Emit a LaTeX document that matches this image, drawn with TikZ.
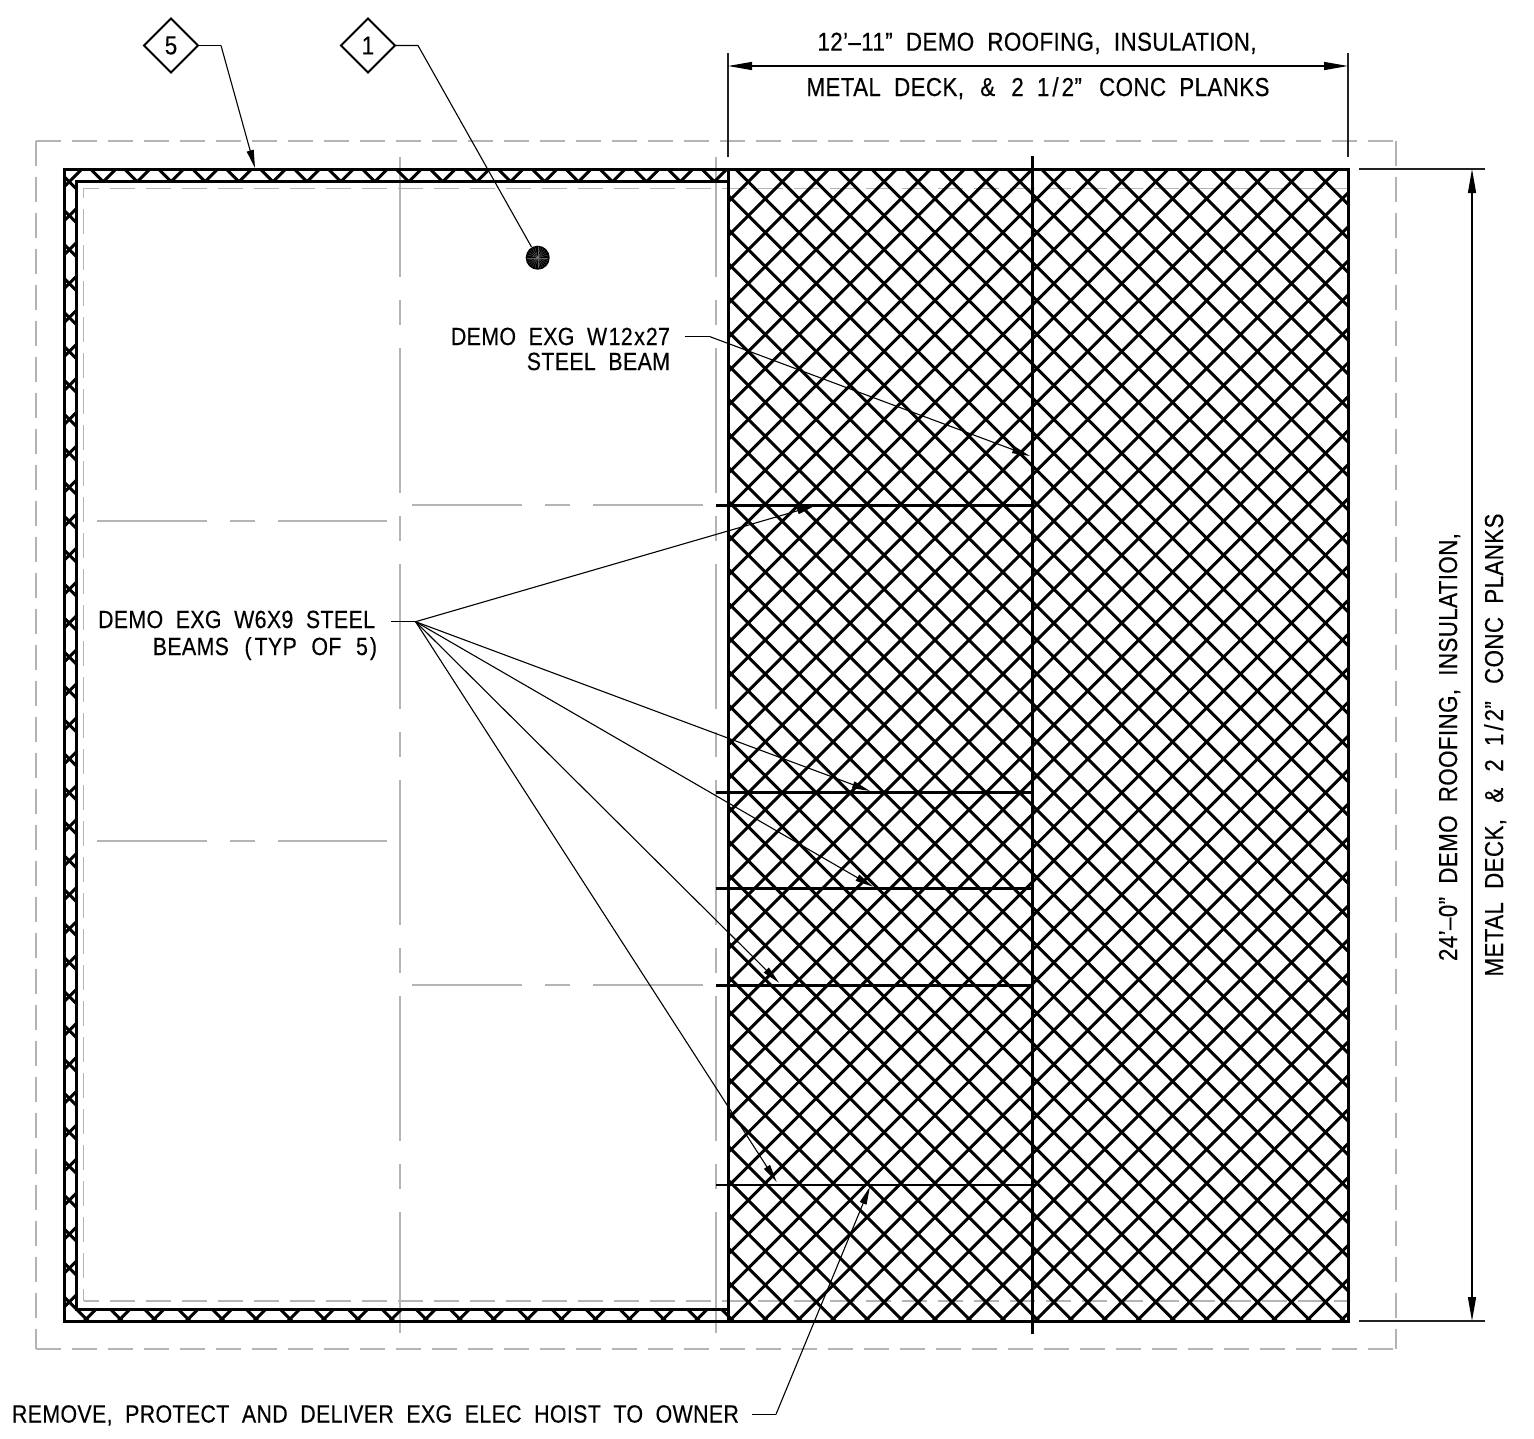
\documentclass[tikz,border=0pt]{standalone}
\usepackage{fontspec}
\setmainfont{Liberation Sans}[FakeStretch=0.86,FakeBold=0.35,LetterSpace=1.5,WordSpace=2.0,Ligatures=NoCommon]
\usetikzlibrary{arrows.meta,shapes.geometric}
\definecolor{gridgray}{HTML}{B4B4B4}
\definecolor{dimink}{HTML}{222222}
\newcommand{\planks}{METAL DECK, \kern3pt\&\kern3pt{} 2 1\kern3pt/\kern3pt2” \kern4pt CONC PLANKS}
\tikzset{
  wallink/.style={line width=3pt,black,line join=miter},
  hatchink/.style={line width=3pt,black},
  beamink/.style={line width=3pt,black},
  lightbeam/.style={line width=2.4pt,black},
  outerdash/.style={gridgray,line width=1.6pt,dash pattern=on 25pt off 11pt},
  centerv/.style={gridgray,line width=1.6pt,dash pattern=on 145pt off 23pt on 25pt off 23pt,dash phase=25pt},
  centerh/.style={gridgray,line width=1.6pt,dash pattern=on 110pt off 23pt on 25pt off 23pt},
  extline/.style={dimink,line width=1.3pt},
  dimarrow/.style={black,line width=1.3pt,{Triangle[length=24pt,width=8pt]}-{Triangle[length=24pt,width=8pt]}},
  leader/.style={black,line width=1.1pt,-{Triangle[length=18pt,width=7pt]}},
  stubline/.style={black,line width=1.1pt},
  tag/.style={draw=black,line width=1.8pt,diamond,aspect=1,minimum width=54pt,minimum height=54pt,inner sep=0pt,outer sep=0pt,font=\fontsize{26}{26}\selectfont},
  note/.style={inner sep=0pt,outer sep=0pt,font=\fontsize{24.8}{24.8}\selectfont},
  dimnote/.style={inner sep=0pt,outer sep=0pt,font=\fontsize{26}{26}\selectfont},
  anchorpt/.style={inner sep=0pt,minimum size=0pt}
}
\begin{document}
\begin{tikzpicture}[x=1pt,y=-1pt]
\useasboundingbox (0,0) rectangle (1534,1438);
\fill[white] (0,0) rectangle (1534,1438);
% grey outer dashed
\draw[outerdash] (36,140.7) -- (1396,140.7);
\draw[outerdash] (36,140.7) -- (36,1349);
\draw[outerdash] (1396,140.7) -- (1396,1349);
\draw[outerdash] (36,1349) -- (1396,1349);
% grey inner dashed
\draw[outerdash,dash phase=10pt] (83.5,188.3) -- (1347,188.3);
\draw[outerdash,dash phase=15pt] (83.5,188.3) -- (83.5,1301);
\draw[outerdash,dash phase=10pt] (83.5,1301) -- (1347,1301);
% grey centre lines
\draw[centerv] (400,157) -- (400,1333);
\draw[centerv] (716,157) -- (716,1333);
\draw[centerh] (97,521) -- (387,521);
\draw[centerh] (97,841) -- (387,841);
\draw[centerh] (412,505) -- (703,505);
\draw[centerh] (412,985) -- (703,985);
% hatching
\begin{scope}
\clip (64,169) rectangle (728,181) (64,169) rectangle (76,1321) (64,1309) rectangle (728,1321) (728,169) rectangle (1348,1321);
\foreach \k in {-21,...,52}{
  \pgfmathsetmacro{\cc}{930+33.95*\k}
  \draw[hatchink] (\cc,0) -- (0,\cc);
}
\foreach \k in {-54,...,19}{
  \pgfmathsetmacro{\dd}{566.6+33.95*\k}
  \pgfmathsetmacro{\ya}{-\dd}
  \pgfmathsetmacro{\yb}{1400-\dd}
  \draw[hatchink] (0,\ya) -- (1400,\yb);
}
\end{scope}
% walls
\draw[wallink] (64,169) rectangle (1348,1321);
\draw[wallink] (728,181) -- (76,181) -- (76,1309) -- (728,1309);
\draw[wallink] (728,169) -- (728,1321);
% beams
\draw[beamink] (1032,156) -- (1032,1334);
\draw[beamink] (716,505) -- (1032,505);
\draw[beamink] (716,792.5) -- (1032,792.5);
\draw[beamink] (716,888.5) -- (1032,888.5);
\draw[beamink] (716,985) -- (1032,985);
\draw[lightbeam] (716,1185) -- (1032,1185);
% dimensions
\draw[extline] (728,53) -- (728,157);
\draw[extline] (1348,53) -- (1348,157);
\draw[extline] (1359,169) -- (1485,169);
\draw[extline] (1359,1321) -- (1485,1321);
\coordinate (dimL) at (728,66);
\coordinate (dimR) at (1348,66);
\coordinate (dimT) at (1472,169);
\coordinate (dimB) at (1472,1321);
\draw[dimarrow] (dimL) -- (dimR);
\draw[dimarrow] (dimT) -- (dimB);
% point
\fill[black] (537.7,257.7) circle (12);
\foreach \a in {0,15,...,345}{
  \draw[black!62,line width=0.35pt] (537.7,257.7) -- ++(\a:10.5);
}
\fill[black!55] (537.7,257.7) circle (1.6);
% tags
\node[tag] (tagfive) at (171,45.5) {5};
\node[tag] (tagone) at (368,45.5) {1};
\coordinate (kneefive) at (221,45.5);
\coordinate (kneeone) at (418,45.5);
\coordinate (tipfive) at (255,168);
\coordinate (tipone) at (531.5,247);
\draw[stubline] (tagfive.east) -- (kneefive);
\draw[leader] (kneefive) -- (tipfive);
\draw[stubline] (tagone.east) -- (kneeone) -- (tipone);
% notes
\node[note,anchor=base east] (noteA) at (670,345) {DEMO EXG W\kern1.5pt 12\kern1.5pt x\kern1pt 27};
\node[note,anchor=base east] (noteB) at (670,370) {STEEL BEAM};
\node[note,anchor=base east] (noteC) at (375,628) {DEMO EXG W6X9 STEEL};
\node[note,anchor=base east] (noteD) at (377,655) {BEAMS \kern3pt(\kern3pt TYP \kern2pt OF \kern2pt 5\kern2pt)};
\node[note,anchor=base west] (noteE) at (12,1422.5) {REMOVE, PROTECT AND DELIVER EXG ELEC HOIST TO OWNER};
\node[dimnote,anchor=base] (dimA) at (1037,50.7) {12’–11” DEMO ROOFING, INSULATION,};
\node[dimnote,anchor=base] (dimB) at (1038,96) {\planks};
\node[dimnote,anchor=base,rotate=90] (dimC) at (1457,747) {24’–0” DEMO ROOFING, INSULATION,};
\node[dimnote,anchor=base,rotate=90] (dimD) at (1503,745) {\planks};
% leaders
\coordinate (wstart) at (685,336.7);
\coordinate (wknee) at (710,336.7);
\coordinate (wtip) at (1030,456);
\draw[stubline] (wstart) -- (wknee);
\draw[leader] (wknee) -- (wtip);
\coordinate (fanstart) at (391,621.7);
\coordinate (fan) at (415.6,621.7);
\draw[stubline] (fanstart) -- (fan);
\coordinate (tipa) at (815,505.7);
\coordinate (tipb) at (870,791);
\coordinate (tipc) at (873,886.7);
\coordinate (tipd) at (779,982.7);
\coordinate (tipe) at (776.7,1182);
\foreach \t in {tipa,tipb,tipc,tipd,tipe}{ \draw[leader] (fan) -- (\t); }
\coordinate (hoiststart) at (751.7,1414.3);
\coordinate (hoistknee) at (776,1414.3);
\coordinate (hoisttip) at (870,1186.7);
\draw[stubline] (hoiststart) -- (hoistknee);
\draw[leader] (hoistknee) -- (hoisttip);
\end{tikzpicture}
\end{document}
